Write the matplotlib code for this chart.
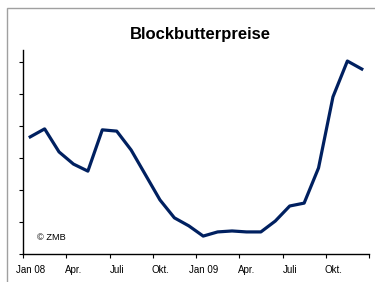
#!/usr/bin/env python3
import matplotlib
matplotlib.use("Agg")
import matplotlib.pyplot as plt
from matplotlib.patches import Rectangle

# monthly block butter prices Jan 08 .. Dec 09 (axis has no value labels)
months = list(range(24))
prices = [3.66, 3.91, 3.19, 2.81, 2.59, 3.88, 3.84, 3.25, 2.47, 1.69, 1.13, 0.88,
          0.56, 0.69, 0.72, 0.69, 0.69, 1.03, 1.50, 1.59, 2.69, 4.91, 6.03, 5.78]
tick_labels = ["Jan 08", "Apr.", "Juli", "Okt.", "Jan 09", "Apr.", "Juli", "Okt."]

plt.rcParams['font.family'] = ['Liberation Sans', 'DejaVu Sans']

fig = plt.figure(figsize=(3.75, 2.82), dpi=100)

# grey frame of the original picture
fig.patches.append(Rectangle((7 / 375, -0.1), 1.2, 1 - 8 / 282 + 0.1,
                             transform=fig.transFigure, fill=False,
                             edgecolor="#a0a0a0", linewidth=1.0))

ax = fig.add_axes([23 / 375, 1 - 254 / 282, 346 / 375, 204 / 282])

x = [m + 0.5 for m in months]
ax.plot(x, prices, color="#002060", linewidth=2.3, solid_joinstyle="round")

ax.set_xlim(0, 24)
ax.set_ylim(0, 6.375)

for s in ["top", "right"]:
    ax.spines[s].set_visible(False)
ax.spines["left"].set_linewidth(1.0)
ax.spines["bottom"].set_linewidth(1.0)

ax.set_yticks(range(7))
ax.set_yticklabels([])
ax.tick_params(axis="y", length=3, width=0.8, direction="out")

ax.set_xticks(range(0, 25, 3))
ax.set_xticklabels([])
ax.tick_params(axis="x", which="major", length=3, width=0.8, direction="out")
ax.set_xticks([m + 0.5 for m in range(0, 24, 3)], minor=True)
ax.set_xticklabels(tick_labels, minor=True, fontsize=7)
ax.tick_params(axis="x", which="minor", length=0, pad=8)

ax.text(0.04, 0.07, "© ZMB", transform=ax.transAxes, fontsize=6.7)

fig.text(200 / 375, 1 - 34 / 282, "Blockbutterpreise", ha="center", va="center",
         fontsize=12, fontweight="bold")

fig.savefig("out.png", dpi=100)
